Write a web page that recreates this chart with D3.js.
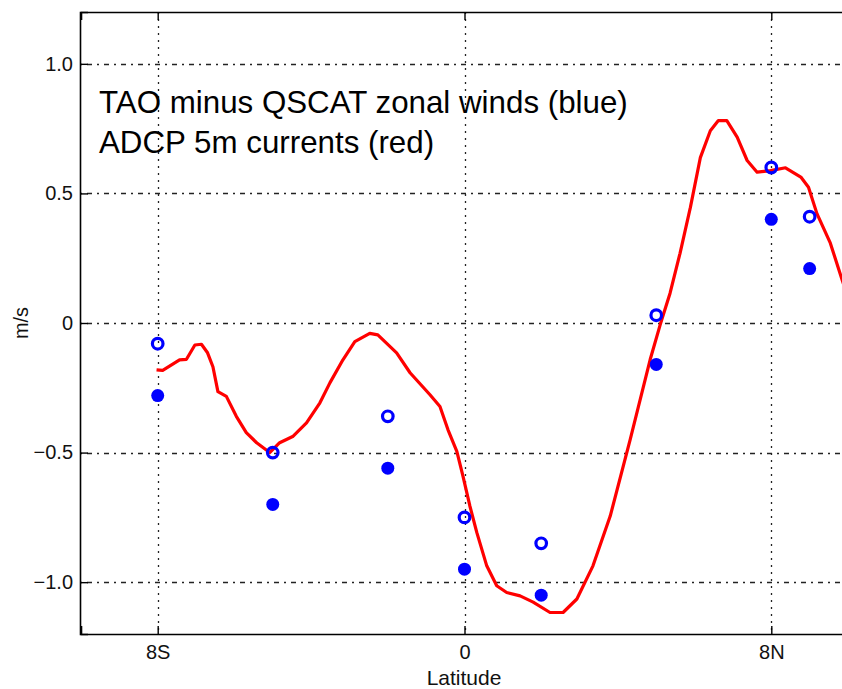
<!DOCTYPE html>
<html>
<head>
<meta charset="utf-8">
<script src="https://cdn.jsdelivr.net/npm/d3@7"></script>
<style>
  body { margin: 0; background: #fff; }
  svg { display: block; font-family: "Liberation Sans", Arial, Helvetica, sans-serif; }
</style>
</head>
<body>
<div id="chart"></div>
<script>
// latitude of each mooring (deg, negative = south)
var stationLat = [-8, -5, -2, 0, 2, 5, 8, 9];
// TAO minus QSCAT zonal winds, open circles (m/s)
var windOpen = [-0.08, -0.50, -0.36, -0.75, -0.85, 0.03, 0.60, 0.41];
// filled circles (m/s)
var windFilled = [-0.28, -0.70, -0.56, -0.95, -1.05, -0.16, 0.40, 0.21];

// ADCP 5m currents, red line
var adcpLat = [-8.03, -7.87, -7.43, -7.25, -7.03, -6.86, -6.70, -6.56, -6.43, -6.21,
  -5.95, -5.69, -5.42, -5.08, -4.82, -4.48, -4.12, -3.77, -3.51, -3.17,
  -2.86, -2.47, -2.26, -1.77, -1.42, -0.90, -0.64, -0.43, -0.20, -0.04,
  0.14, 0.32, 0.58, 0.84, 1.10, 1.45, 1.79, 2.23, 2.57, 2.93,
  3.35, 3.80, 4.32, 4.84, 5.10, 5.36, 5.62, 5.89, 6.15, 6.41,
  6.62, 6.84, 7.11, 7.37, 7.63, 7.98, 8.37, 8.77, 8.97, 9.19,
  9.54, 9.85, 10.0];
var adcpVal = [-0.181, -0.183, -0.142, -0.140, -0.085, -0.082, -0.115, -0.169, -0.265, -0.283,
  -0.360, -0.423, -0.462, -0.500, -0.462, -0.438, -0.385, -0.308, -0.231, -0.142,
  -0.072, -0.040, -0.046, -0.115, -0.192, -0.277, -0.322, -0.412, -0.495, -0.591,
  -0.706, -0.808, -0.937, -1.014, -1.040, -1.053, -1.077, -1.117, -1.117, -1.065,
  -0.937, -0.745, -0.450, -0.142, -0.008, 0.115, 0.269, 0.446, 0.638, 0.742,
  0.781, 0.781, 0.717, 0.627, 0.582, 0.588, 0.599, 0.563, 0.524, 0.422,
  0.308, 0.165, 0.10];

var yTicks = [1.0, 0.5, 0, -0.5, -1.0];
var yTickLabels = ["1.0", "0.5", "0", "\u22120.5", "\u22121.0"];
var xTicks = [-8, 0, 8];
var xTickLabels = ["8S", "0", "8N"];

var W = 842, H = 689;
var mLeft = 80, mTop = 12, mRight = 848, mBottom = 634;

var svg = d3.select("#chart").append("svg")
  .attr("width", W).attr("height", H);

var x = d3.scaleLinear().domain([-10, 10]).range([mLeft + 1, mRight]);
var y = d3.scaleLinear().domain([-1.2, 1.2]).range([mBottom, mTop]);

svg.append("defs").append("clipPath").attr("id", "clip")
  .append("rect").attr("x", mLeft).attr("y", mTop).attr("width", mRight - mLeft).attr("height", mBottom - mTop);

// grid
svg.append("g").selectAll("line").data(yTicks).enter().append("line")
  .attr("x1", mLeft).attr("x2", mRight)
  .attr("y1", function(d) { return Math.round(y(d)) + 0.5; })
  .attr("y2", function(d) { return Math.round(y(d)) + 0.5; })
  .attr("stroke", "#222").attr("stroke-width", 1.3)
  .attr("stroke-dasharray", "2,5,5,5");

svg.append("g").selectAll("line").data(xTicks).enter().append("line")
  .attr("y1", mTop).attr("y2", mBottom)
  .attr("x1", function(d) { return Math.round(x(d)) + 0.5; })
  .attr("x2", function(d) { return Math.round(x(d)) + 0.5; })
  .attr("stroke", "#222").attr("stroke-width", 1.3)
  .attr("stroke-dasharray", "2,5");

// axes with inward ticks
var yAxis = d3.axisLeft(y).tickValues(yTicks).tickSize(-8).tickPadding(7)
  .tickFormat(function(d, i) { return yTickLabels[i]; });
var gy = svg.append("g").attr("transform", "translate(" + mLeft + ",0)").call(yAxis);

var xAxis = d3.axisBottom(x).tickValues(xTicks).tickSize(-8).tickPadding(11)
  .tickFormat(function(d, i) { return xTickLabels[i]; });
var gx = svg.append("g").attr("transform", "translate(0," + mBottom + ")").call(xAxis);

var xTop = d3.axisTop(x).tickValues(xTicks).tickSize(-8).tickFormat("");
var gt = svg.append("g").attr("transform", "translate(0," + mTop + ")").call(xTop);

[gy, gx, gt].forEach(function(g) {
  g.select(".domain").attr("stroke", "#000").attr("stroke-width", 1.6);
  g.selectAll(".tick line").attr("stroke", "#000").attr("stroke-width", 1.4);
  g.selectAll(".tick text").attr("fill", "#111").attr("font-size", 20)
    .attr("font-family", "'Liberation Sans', Arial, sans-serif");
});

// red ADCP line
var line = d3.line()
  .x(function(d, i) { return x(adcpLat[i]); })
  .y(function(d) { return y(d); })
  .curve(d3.curveLinear);

svg.append("path").datum(adcpVal)
  .attr("clip-path", "url(#clip)")
  .attr("d", line)
  .attr("fill", "none").attr("stroke", "#ff0000")
  .attr("stroke-width", 3.2).attr("stroke-linejoin", "round");

// blue markers
svg.append("g").selectAll("circle").data(windFilled).enter().append("circle")
  .attr("cx", function(d, i) { return x(stationLat[i]); })
  .attr("cy", function(d) { return y(d); })
  .attr("r", 6.5).attr("fill", "#0000ff");

svg.append("g").selectAll("circle").data(windOpen).enter().append("circle")
  .attr("cx", function(d, i) { return x(stationLat[i]); })
  .attr("cy", function(d) { return y(d); })
  .attr("r", 5.3).attr("fill", "none").attr("stroke", "#0000ff").attr("stroke-width", 3.2);

// annotation
var note = svg.append("text").attr("x", 99).attr("y", 113)
  .attr("font-size", 31.3).attr("fill", "#000");
note.append("tspan").attr("x", 99).text("TAO minus QSCAT zonal winds (blue)");
note.append("tspan").attr("x", 99).attr("dy", 40).text("ADCP 5m currents (red)");

// axis labels
svg.append("text").attr("x", 464).attr("y", 685)
  .attr("text-anchor", "middle").attr("font-size", 21).attr("fill", "#111")
  .text("Latitude");

svg.append("text")
  .attr("transform", "translate(28," + y(0) + ") rotate(-90)")
  .attr("text-anchor", "middle").attr("font-size", 20).attr("fill", "#111")
  .text("m/s");
</script>
</body>
</html>
